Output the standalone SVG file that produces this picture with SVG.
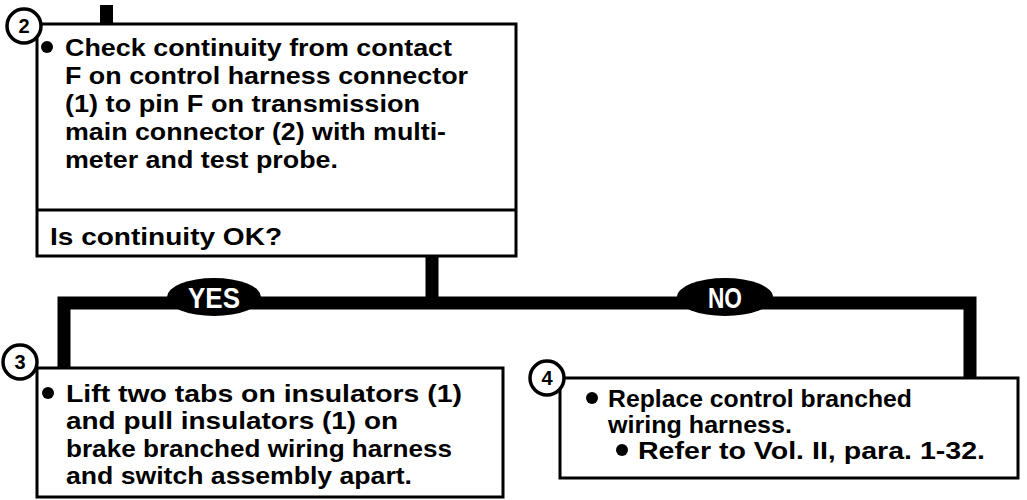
<svg xmlns="http://www.w3.org/2000/svg" width="1027" height="500" viewBox="0 0 1027 500">
<style>
.box{fill:#fff;stroke:#000;stroke-width:3}
.circ{fill:#fff;stroke:#000;stroke-width:3.5}
.num{font-family:"Liberation Sans",Arial,sans-serif;font-weight:bold;font-size:20px;text-anchor:middle}
.t{font-family:"Liberation Sans",Arial,sans-serif;font-weight:bold;font-size:24px;fill:#000}
.lbl{font-family:"Liberation Sans",Arial,sans-serif;font-weight:bold;font-size:30px;fill:#fff;text-anchor:middle}
.wire{fill:none;stroke:#000;stroke-width:13}
</style>
<rect width="1027" height="500" fill="#fff"/>
<g id="connectors">
<rect x="100" y="5" width="13" height="20" fill="#000"/>
<polyline class="wire" points="432,256 432,303"/>
<polyline class="wire" points="64,368 64,303 970,303 970,378"/>
<ellipse cx="214" cy="297" rx="47" ry="19" fill="#000"/>
<text class="lbl" x="214" y="308" textLength="52" lengthAdjust="spacingAndGlyphs">YES</text>
<ellipse cx="725" cy="297" rx="48" ry="19" fill="#000"/>
<text class="lbl" x="725" y="308" textLength="34" lengthAdjust="spacingAndGlyphs">NO</text>
</g>
<g id="node2">
<rect class="box" x="37" y="24" width="479" height="232"/>
<line x1="37" y1="210" x2="516" y2="210" stroke="#000" stroke-width="3"/>
<circle class="circ" cx="24" cy="26" r="17"/>
<text class="num" x="24" y="33">2</text>
<circle cx="47" cy="47" r="6"/>
<text class="t" x="65" y="56" textLength="387" lengthAdjust="spacingAndGlyphs">Check continuity from contact</text>
<text class="t" x="65" y="84" textLength="403" lengthAdjust="spacingAndGlyphs">F on control harness connector</text>
<text class="t" x="65" y="112" textLength="355" lengthAdjust="spacingAndGlyphs">(1) to pin F on transmission</text>
<text class="t" x="65" y="140" textLength="381" lengthAdjust="spacingAndGlyphs">main connector (2) with multi-</text>
<text class="t" x="65" y="168" textLength="273" lengthAdjust="spacingAndGlyphs">meter and test probe.</text>
<text class="t" x="50" y="245" textLength="232" lengthAdjust="spacingAndGlyphs">Is continuity OK?</text>
</g>
<g id="node3">
<rect class="box" x="37" y="368" width="466" height="129"/>
<circle class="circ" cx="20" cy="362" r="17"/>
<text class="num" x="20" y="369">3</text>
<circle cx="48" cy="393" r="6"/>
<text class="t" x="66" y="402" textLength="396" lengthAdjust="spacingAndGlyphs">Lift two tabs on insulators (1)</text>
<text class="t" x="66" y="429" textLength="332" lengthAdjust="spacingAndGlyphs">and pull insulators (1) on</text>
<text class="t" x="66" y="457" textLength="386" lengthAdjust="spacingAndGlyphs">brake branched wiring harness</text>
<text class="t" x="66" y="484" textLength="346" lengthAdjust="spacingAndGlyphs">and switch assembly apart.</text>
</g>
<g id="node4">
<rect class="box" x="560" y="378" width="458" height="100"/>
<circle class="circ" cx="547" cy="378" r="17"/>
<text class="num" x="547" y="385">4</text>
<circle cx="592" cy="398" r="6"/>
<text class="t" x="608" y="407" textLength="304" lengthAdjust="spacingAndGlyphs">Replace control branched</text>
<text class="t" x="608" y="433" textLength="184" lengthAdjust="spacingAndGlyphs">wiring harness.</text>
<circle cx="622" cy="450" r="6"/>
<text class="t" x="638" y="459" textLength="347" lengthAdjust="spacingAndGlyphs">Refer to Vol. II, para. 1-32.</text>
</g>
</svg>
